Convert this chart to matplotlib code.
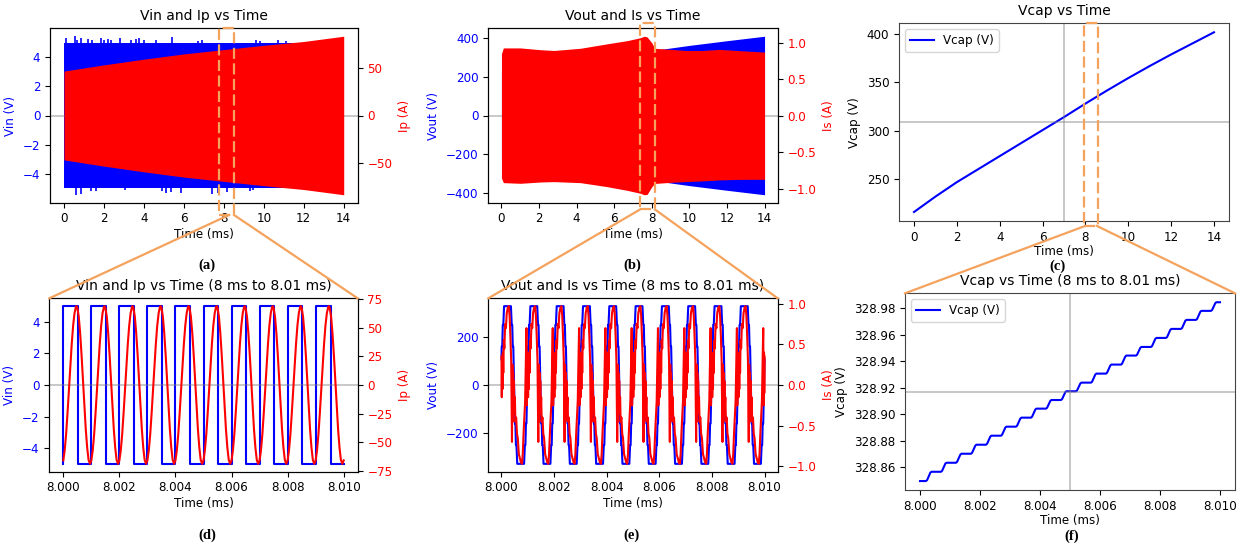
import numpy as np
import matplotlib
matplotlib.use("Agg")
import matplotlib.pyplot as plt
from matplotlib.lines import Line2D
from matplotlib.patches import Rectangle
from matplotlib.ticker import FormatStrFormatter

plt.rcParams['font.size'] = 8.6
plt.rcParams['axes.titlesize'] = 10

# ---------------- data ----------------
# (a) Vin / Ip overview
VIN_ENV_T = [0.0, 14.0]
VIN_ENV_HIGH = [5.0, 5.0]
VIN_SPIKE_UP_T = [0.1, 0.55, 0.66, 0.86, 1.2, 1.4, 1.86, 2.0, 2.2, 2.35, 2.8, 3.35,
                  3.6, 3.75, 4.0, 4.6, 5.4, 6.7, 6.9, 8.5, 9.6, 9.8, 10.7, 11.1]
VIN_SPIKE_UP_V = [5.3, 5.43, 5.2, 5.3, 5.25, 5.2, 5.3, 5.15, 5.25, 5.2, 5.3, 5.2,
                  5.25, 5.3, 5.2, 5.2, 5.35, 5.1, 5.15, 5.1, 5.2, 5.1, 5.15, 5.1]
VIN_SPIKE_DN_T = [0.61, 0.86, 1.33, 1.58, 3.05, 4.93, 5.12, 5.37, 5.84, 7.41, 7.7,
                  8.16, 9.3, 9.47]
VIN_SPIKE_DN_V = [-5.43, -5.35, -5.2, -5.15, -5.1, -5.2, -5.3, -5.25, -5.3, -5.4,
                  -5.3, -5.25, -5.15, -5.1]
IP_ENV_T = [0, 2, 4, 6, 8, 10, 12, 14]
IP_ENV = [46.5, 53.0, 59.0, 64.5, 69.0, 73.5, 77.5, 83.0]

# (b) Vout / Is overview
VOUT_ENV_T = [0, 2, 4, 6, 8, 10, 12, 14]
VOUT_ENV = [220, 250, 278, 305, 333, 360, 384, 407]
IS_ENV_T = [0.0, 0.1, 1.0, 2.1, 2.8, 4.2, 5.6, 6.7, 7.4, 7.6, 7.75, 8.0, 8.16,
            9.0, 9.8, 10.7, 11.6, 12.5, 14.0]
IS_ENV_HIGH = [0.85, 0.93, 0.93, 0.905, 0.895, 0.925, 0.985, 1.03, 1.07, 1.09,
               1.08, 1.0, 0.925, 0.91, 0.895, 0.895, 0.91, 0.895, 0.873]
IS_ENV_LOW = [-0.85, -0.914, -0.923, -0.905, -0.9, -0.914, -0.968, -1.02, -1.06,
              -1.08, -1.075, -0.97, -0.925, -0.91, -0.9, -0.89, -0.877, -0.87, -0.868]

# (c) Vcap overview
VCAP_T = [0, 1, 2, 3, 4, 5, 6, 7, 8, 9, 10, 11, 12, 13, 14]
VCAP = [215.5, 231.5, 246.5, 260.0, 273.5, 287.0, 300.5, 314.0, 328.0, 341.5,
        354.5, 367.0, 379.0, 390.5, 402.0]

# zoom window 8 ms .. 8.01 ms : 10 periods of 0.001 ms
ZOOM_T0 = 8.000
PERIOD = 0.001
N_PERIODS = 10

# (d) one period of Vin and Ip
VIN_PH = [0.0, 0.0, 0.53, 0.53, 1.0]
VIN_PV = [-5.0, 5.0, 5.0, -5.0, -5.0]
IP_PH = [0.00, 0.05, 0.10, 0.15, 0.20, 0.25, 0.30, 0.35, 0.40, 0.45, 0.47, 0.50,
         0.55, 0.60, 0.65, 0.70, 0.75, 0.80, 0.85, 0.90, 0.95, 1.00]
IP_PV = [-66, -57, -43, -24.5, -4, 16.5, 36, 52, 63, 68.5, 69, 67.5,
         60, 45.5, 26.5, 4.5, -18, -38.5, -54.5, -65.5, -69, -66]

# (e) one period of Vout and Is
VOUT_PH = [0.00, 0.01, 0.03, 0.05, 0.07, 0.10, 0.36, 0.39, 0.41, 0.43, 0.45, 0.48,
           0.51, 0.53, 0.55, 0.57, 0.60, 0.86, 0.89, 0.91, 0.93, 0.95, 0.98, 1.00]
VOUT_PV = [107, 160, 160, 250, 250, 328, 328, 250, 250, 160, 160, 0,
           -160, -160, -250, -250, -328, -328, -250, -250, -160, -160, 0, 107]
IS_PH = [0.000, 0.012, 0.025, 0.040, 0.055, 0.070, 0.090, 0.110, 0.140, 0.170,
         0.200, 0.240, 0.280, 0.310, 0.340, 0.370, 0.400, 0.415, 0.430, 0.445,
         0.460, 0.475, 0.490, 0.510, 0.530, 0.560, 0.590, 0.620, 0.660, 0.700,
         0.740, 0.780, 0.810, 0.840, 0.870, 0.900, 0.950, 0.965, 0.980, 0.990, 1.000]
IS_PV = [0.35, -0.15, 0.30, -0.05, 0.40, 0.15, 0.55, 0.45, 0.75, 0.70,
         0.88, 0.95, 0.97, 0.85, 0.60, 0.30, -0.70, 0.25, -0.45, 0.15,
         -0.35, 0.05, -0.30, -0.15, -0.45, -0.40, -0.60, -0.65, -0.85, -0.90,
         -0.95, -0.97, -0.85, -0.60, -0.40, -0.20, 0.70, -0.25, 0.40, -0.10, 0.35]

# (f) Vcap staircase
VCAP_LEVELS = [328.8497, 328.8567, 328.8635, 328.8703, 328.8771, 328.8839, 328.8907,
               328.8975, 328.9043, 328.9108, 328.9174, 328.9239, 328.9307, 328.9375,
               328.9443, 328.9508, 328.9576, 328.9644, 328.9712, 328.9780, 328.9845]
STEP_START = 0.00020   # ms after each half-period boundary
STEP_LEN = 0.00018
STEP_EVERY = 0.0005
RAMP_T = [0.0, 0.2, 0.5, 0.8, 1.0]
RAMP_V = [0.0, 0.1, 0.5, 0.9, 1.0]

# ---------------- helpers ----------------
def tile(ph, pv):
    t = np.concatenate([ZOOM_T0 + (k + np.asarray(ph)) * PERIOD for k in range(N_PERIODS)])
    v = np.concatenate([np.asarray(pv, float) for _ in range(N_PERIODS)])
    return t, v

W, H = 1249, 545
fig = plt.figure(figsize=(W / 100, H / 100), dpi=100)

def box(l, t, r, b):
    return [l / W, 1 - b / H, (r - l) / W, (b - t) / H]

BLUE, RED = 'blue', 'red'
GREY_LINE = dict(color='gray', alpha=0.5, lw=1.2)

def style_twin(ax1, ax2, l1, l2):
    ax1.set_ylabel(l1, color=BLUE)
    ax1.tick_params(axis='y', labelcolor=BLUE)
    ax2.set_ylabel(l2, color=RED)
    ax2.tick_params(axis='y', labelcolor=RED)

# (a)
axa = fig.add_axes(box(50, 28.3, 357.7, 202.7))
axa.fill_between(VIN_ENV_T, -np.asarray(VIN_ENV_HIGH), VIN_ENV_HIGH, color=BLUE, lw=0)
axa.vlines(VIN_SPIKE_UP_T, 5.0, VIN_SPIKE_UP_V, color=BLUE, lw=1.2)
axa.vlines(VIN_SPIKE_DN_T, VIN_SPIKE_DN_V, -5.0, color=BLUE, lw=1.2)
axa.axhline(0, **GREY_LINE)
axa.set_xlabel('Time (ms)', labelpad=2)
axa.set_title('Vin and Ip vs Time')
axa2 = axa.twinx()
axa2.fill_between(IP_ENV_T, -np.asarray(IP_ENV), IP_ENV, color=RED, lw=0)
style_twin(axa, axa2, 'Vin (V)', 'Ip (A)')
axa.set_xticks(range(0, 15, 2))

# (b)
axb = fig.add_axes(box(488.3, 28.3, 777.7, 202.7))
axb.fill_between(VOUT_ENV_T, -np.asarray(VOUT_ENV), VOUT_ENV, color=BLUE, lw=0)
axb.axhline(0, **GREY_LINE)
axb.set_xlabel('Time (ms)', labelpad=2)
axb.set_title('Vout and Is vs Time')
axb2 = axb.twinx()
axb2.fill_between(IS_ENV_T, IS_ENV_LOW, IS_ENV_HIGH, color=RED, lw=0)
style_twin(axb, axb2, 'Vout (V)', 'Is (A)')
axb.set_xticks(range(0, 15, 2))

# (c)
axc = fig.add_axes(box(899, 23.3, 1229, 221))
axc.plot(VCAP_T, VCAP, color=BLUE, lw=1.5, label='Vcap (V)')
axc.axhline((min(VCAP) + max(VCAP)) / 2, **GREY_LINE)
axc.axvline((VCAP_T[0] + VCAP_T[-1]) / 2, **GREY_LINE)
axc.set_xlabel('Time (ms)', labelpad=1)
axc.set_ylabel('Vcap (V)')
axc.set_title('Vcap vs Time')
axc.legend(loc='upper left')
axc.set_xticks(range(0, 15, 2))

# (d)
axd = fig.add_axes(box(49.3, 298.3, 357.7, 471.7))
t, v = tile(VIN_PH, VIN_PV)
axd.plot(t, v, color=BLUE, lw=1.5)
axd.axhline(0, **GREY_LINE)
axd.set_xlabel('Time (ms)', labelpad=2)
axd.set_title('Vin and Ip vs Time (8 ms to 8.01 ms)')
axd2 = axd.twinx()
t, v = tile(IP_PH, IP_PV)
axd2.plot(t, v, color=RED, lw=1.5)
style_twin(axd, axd2, 'Vin (V)', 'Ip (A)')
axd.xaxis.set_major_formatter(FormatStrFormatter('%.3f'))

# (e)
axe = fig.add_axes(box(488.3, 298.3, 777.7, 471.7))
t, v = tile(VOUT_PH, VOUT_PV)
axe.plot(t, v, color=BLUE, lw=1.5)
axe.axhline(0, **GREY_LINE)
axe.set_xlabel('Time (ms)', labelpad=2)
axe.set_title('Vout and Is vs Time (8 ms to 8.01 ms)')
axe2 = axe.twinx()
t, v = tile(IS_PH, IS_PV)
axe2.plot(t, v, color=RED, lw=1.5)
style_twin(axe, axe2, 'Vout (V)', 'Is (A)')
axe.xaxis.set_major_formatter(FormatStrFormatter('%.3f'))

# (f)
axf = fig.add_axes(box(905, 293.3, 1235, 490))
ft = [ZOOM_T0]
fv = [VCAP_LEVELS[0]]
for k in range(len(VCAP_LEVELS) - 1):
    s = ZOOM_T0 + k * STEP_EVERY + STEP_START
    for rt, rv in zip(RAMP_T, RAMP_V):
        ft.append(s + rt * STEP_LEN)
        fv.append(VCAP_LEVELS[k] + rv * (VCAP_LEVELS[k + 1] - VCAP_LEVELS[k]))
ft.append(ZOOM_T0 + N_PERIODS * PERIOD)
fv.append(VCAP_LEVELS[-1])
axf.plot(ft, fv, color=BLUE, lw=1.5, label='Vcap (V)')
axf.axhline((min(fv) + max(fv)) / 2, **GREY_LINE)
axf.axvline((ft[0] + ft[-1]) / 2, **GREY_LINE)
axf.set_xlabel('Time (ms)', labelpad=1)
axf.set_ylabel('Vcap (V)')
axf.set_title('Vcap vs Time (8 ms to 8.01 ms)')
axf.legend(loc='upper left')
axf.xaxis.set_major_formatter(FormatStrFormatter('%.3f'))
axf.yaxis.set_major_formatter(FormatStrFormatter('%.2f'))

for ax in (axc, axf):
    for sp in ax.spines.values():
        sp.set_color('#444444')

# ---------------- zoom annotations ----------------
ORANGE = '#F5A25D'

def fx(x):
    return x / W

def fy(y):
    return 1 - y / H

def rect(l, t, r, b):
    fig.add_artist(Rectangle((fx(l), fy(b)), fx(r) - fx(l), fy(t) - fy(b),
                             transform=fig.transFigure, fill=False,
                             edgecolor=ORANGE, lw=1.6, linestyle=(0, (5, 2)), zorder=20))

def seg(x0, y0, x1, y1):
    fig.add_artist(Line2D([fx(x0), fx(x1)], [fy(y0), fy(y1)], transform=fig.transFigure,
                          color=ORANGE, lw=1.6, zorder=20))

rect(219, 28.3, 234, 215)
seg(229, 215, 49.3, 298.3)
seg(234, 215, 357.7, 298.3)

rect(640, 23.3, 655, 209.5)
seg(640, 209.5, 488.3, 298.3)
seg(655, 209.5, 777.7, 298.3)

rect(1084, 23.3, 1098, 226)
seg(1085, 226, 905, 293.3)
seg(1097, 226, 1235, 293.3)

# ---------------- captions ----------------
CAPTIONS = ['(a)', '(b)', '(c)', '(d)', '(e)', '(f)']
CAP_POS = [(207, 265), (632, 265), (1058, 266), (207, 535), (631, 535), (1072, 536)]
for c, (x, y) in zip(CAPTIONS, CAP_POS):
    fig.text(fx(x), fy(y), c, ha='center', va='center', fontsize=10.5,
             fontweight='bold', family='Liberation Serif')

fig.savefig('out.png', dpi=100)
